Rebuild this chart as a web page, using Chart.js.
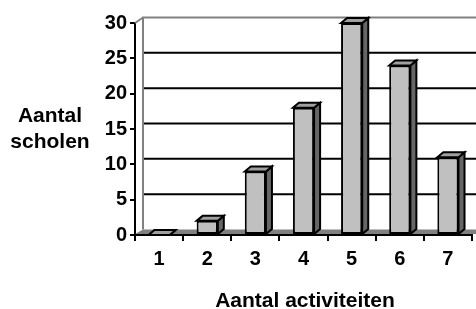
<!DOCTYPE html>
<html><head><meta charset="utf-8">
<script src="https://cdn.jsdelivr.net/npm/chart.js@4"></script>
<style>html,body{margin:0;padding:0;background:#fff}canvas{display:block}</style>
</head><body>
<canvas id="c" width="476" height="309"></canvas>
<script>
const categories = ['1', '2', '3', '4', '5', '6', '7'];
const schoolCounts = [0, 2, 9, 18, 30, 24, 11];
const yTickValues = [0, 5, 10, 15, 20, 25, 30];
const yTitleLines = ['Aantal', 'scholen'];
const xTitle = 'Aantal activiteiten';

const WALL = { dx: 8, dy: -5.5 };
const BAR = { dx: 6, dy: -5 };
const TITLE_FONT = 'bold 21px "Liberation Sans", Arial, sans-serif';

function poly(ctx, pts, fill) {
  ctx.beginPath();
  ctx.moveTo(pts[0][0], pts[0][1]);
  for (let i = 1; i < pts.length; i++) ctx.lineTo(pts[i][0], pts[i][1]);
  ctx.closePath();
  ctx.fillStyle = fill;
  ctx.fill();
  ctx.lineWidth = 2;
  ctx.strokeStyle = '#000';
  ctx.lineJoin = 'miter';
  ctx.stroke();
}
function seg(ctx, x1, y1, x2, y2, color, w) {
  ctx.beginPath();
  ctx.moveTo(x1, y1); ctx.lineTo(x2, y2);
  ctx.strokeStyle = color; ctx.lineWidth = w; ctx.stroke();
}

const threeD = {
  id: 'threeD',
  beforeDatasetsDraw(chart) {
    const { ctx, chartArea: a, scales: { y } } = chart;
    const W = chart.width;
    const y0 = y.getPixelForValue(0);
    ctx.save();
    // floor
    ctx.fillStyle = '#808080';
    ctx.beginPath();
    ctx.moveTo(a.left, y0 - 1);
    ctx.lineTo(a.left + WALL.dx, y0 + WALL.dy);
    ctx.lineTo(W, y0 + WALL.dy);
    ctx.lineTo(W, y0 - 1);
    ctx.closePath();
    ctx.fill();
    // back wall gridlines
    const maxV = yTickValues[yTickValues.length - 1];
    yTickValues.forEach(v => {
      if (v === 0) return;
      const py = y.getPixelForValue(v) + WALL.dy;
      seg(ctx, a.left + WALL.dx - 1, py, W, py, v === maxV ? '#808080' : '#000', 2);
    });
    // side wall edges
    seg(ctx, a.left + WALL.dx, a.top + WALL.dy, a.left + WALL.dx, y0 + WALL.dy, '#808080', 2);
    seg(ctx, a.left, a.top, a.left + WALL.dx, a.top + WALL.dy, '#808080', 2);
    ctx.restore();
  },
  afterDatasetsDraw(chart) {
    const { ctx } = chart;
    const meta = chart.getDatasetMeta(0);
    ctx.save();
    meta.data.forEach(bar => {
      const p = bar.getProps(['x', 'y', 'base', 'width'], true);
      const l = p.x - p.width / 2, r = p.x + p.width / 2;
      const t = Math.min(p.y, p.base), b = Math.max(p.y, p.base);
      poly(ctx, [[r, t], [r + BAR.dx, t + BAR.dy], [r + BAR.dx, b + BAR.dy], [r, b]], '#666666');
      poly(ctx, [[l, t], [l + BAR.dx, t + BAR.dy], [r + BAR.dx, t + BAR.dy], [r, t]], '#a0a0a0');
    });
    ctx.restore();
  },
  afterDraw(chart) {
    const { ctx, chartArea: a } = chart;
    ctx.save();
    ctx.font = TITLE_FONT;
    ctx.fillStyle = '#000';
    ctx.textAlign = 'center';
    ctx.textBaseline = 'alphabetic';
    ctx.fillText(yTitleLines[0], 50, 121.7);
    ctx.fillText(yTitleLines[1], 50, 148.3);
    ctx.fillText(xTitle, (a.left + a.right) / 2 + 1.5, 306.5);
    ctx.restore();
  }
};

Chart.defaults.font.family = '"Liberation Sans", Arial, sans-serif';
Chart.defaults.font.weight = 'bold';
Chart.defaults.font.size = 20;
Chart.defaults.color = '#000';

new Chart(document.getElementById('c'), {
  type: 'bar',
  data: {
    labels: categories,
    datasets: [{
      data: schoolCounts,
      backgroundColor: '#c0c0c0',
      borderColor: '#000',
      borderWidth: 2,
      borderSkipped: false,
      barPercentage: 0.44,
      categoryPercentage: 1.0
    }]
  },
  options: {
    responsive: false,
    devicePixelRatio: 1,
    animation: false,
    layout: { padding: { left: 0, right: 4, top: 23, bottom: 0 } },
    plugins: { legend: { display: false }, tooltip: { enabled: false } },
    scales: {
      x: {
        offset: true,
        grid: { offset: true, drawOnChartArea: false, drawTicks: true, tickLength: 6, color: '#000', lineWidth: 2 },
        border: { display: true, color: '#000', width: 2 },
        ticks: { padding: 6, maxRotation: 0, autoSkip: false },
        afterFit(s) { s.height = 74; }
      },
      y: {
        min: 0, max: 30,
        afterBuildTicks(s) { s.ticks = yTickValues.map(v => ({ value: v })); },
        grid: { drawOnChartArea: false, drawTicks: true, tickLength: 5, color: '#000', lineWidth: 2 },
        border: { display: true, color: '#000', width: 2 },
        ticks: { padding: 3 },
        afterFit(s) { s.width = 135; }
      }
    }
  },
  plugins: [threeD]
});
</script>
</body></html>
